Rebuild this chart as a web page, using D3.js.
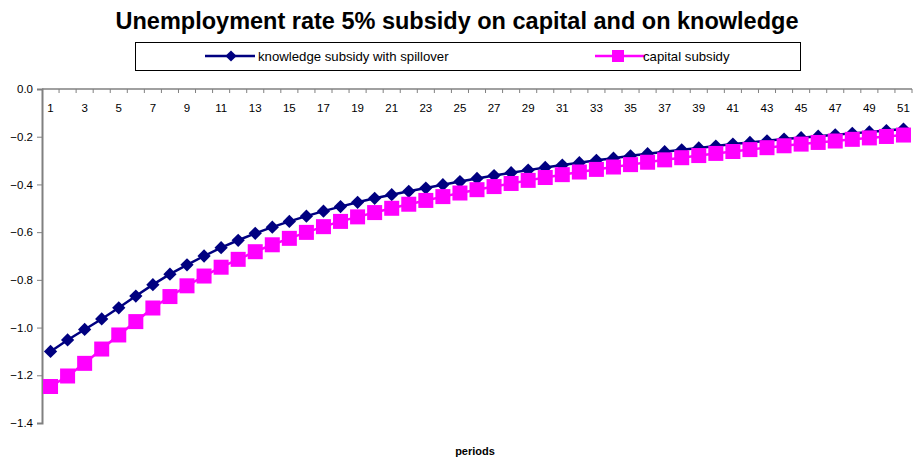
<!DOCTYPE html>
<html>
<head>
<meta charset="utf-8">
<script src="https://cdn.jsdelivr.net/npm/d3@7"></script>
<style>
  body { margin: 0; background: #fff; }
  text { font-family: "Liberation Sans", Arial, sans-serif; }
</style>
</head>
<body>
<div id="chart"></div>
<script>
// values
const periods = d3.range(1, 52);
const knowledgeSubsidy = [
  -1.100, -1.052, -1.008, -0.964, -0.917, -0.868, -0.820, -0.776, -0.737, -0.700,
  -0.665, -0.634, -0.605, -0.579, -0.555, -0.533, -0.512, -0.493, -0.475, -0.458,
  -0.443, -0.429, -0.415, -0.401, -0.388, -0.375, -0.363, -0.351, -0.340, -0.329,
  -0.319, -0.309, -0.299, -0.290, -0.280, -0.271, -0.263, -0.255, -0.247, -0.239,
  -0.231, -0.224, -0.217, -0.210, -0.204, -0.198, -0.192, -0.186, -0.180, -0.174, -0.168
];
const capitalSubsidy = [
  -1.247, -1.203, -1.150, -1.090, -1.031, -0.975, -0.918, -0.870, -0.825, -0.784,
  -0.747, -0.714, -0.682, -0.653, -0.626, -0.601, -0.577, -0.555, -0.536, -0.518,
  -0.500, -0.483, -0.467, -0.451, -0.436, -0.422, -0.409, -0.396, -0.383, -0.371,
  -0.359, -0.348, -0.337, -0.327, -0.317, -0.307, -0.297, -0.288, -0.279, -0.270,
  -0.262, -0.254, -0.246, -0.238, -0.231, -0.224, -0.218, -0.211, -0.205, -0.199, -0.193
];
const yTicks = [0, -0.2, -0.4, -0.6, -0.8, -1.0, -1.2, -1.4];
const seriesNames = ["knowledge subsidy with spillover", "capital subsidy"];
const seriesColors = ["#000080", "#ff00ff"];

const width = 913, height = 462;
const margin = {top: 89, right: 1, bottom: 39, left: 42};

const svg = d3.select("#chart").append("svg")
    .attr("width", width)
    .attr("height", height);

const x = d3.scaleBand()
    .domain(periods)
    .range([margin.left, width - margin.right]);

const y = d3.scaleLinear()
    .domain([-1.4, 0])
    .range([height - margin.bottom, margin.top]);

// title
svg.append("text")
    .attr("x", 457)
    .attr("y", 29)
    .attr("text-anchor", "middle")
    .style("font-size", "23.5px")
    .style("font-weight", "bold")
    .text("Unemployment rate 5% subsidy on capital and on knowledge");

// legend
const legend = svg.append("g");
legend.append("rect")
    .attr("x", 135.5).attr("y", 42.5)
    .attr("width", 665).attr("height", 28)
    .attr("fill", "none")
    .attr("stroke", "#000");

const legendX = [205, 595];
seriesNames.forEach(function(name, i) {
    let g = legend.append("g").attr("transform", "translate(" + legendX[i] + ",56)");
    g.append("line")
        .attr("x1", 0).attr("x2", 50)
        .attr("stroke", seriesColors[i])
        .attr("stroke-width", 2.5);
    if (i === 0) {
        g.append("path")
            .attr("d", d3.symbol().type(d3.symbolDiamond2).size(80)())
            .attr("transform", "translate(26,0)")
            .attr("fill", seriesColors[i]);
    } else {
        g.append("rect")
            .attr("x", 17).attr("y", -6).attr("width", 12).attr("height", 12)
            .attr("fill", seriesColors[i]);
    }
    g.append("text")
        .attr("x", i === 0 ? 53 : 48).attr("y", 4.5)
        .style("font-size", "13.2px")
        .text(name);
});

// y axis
const yAxis = svg.append("g")
    .attr("transform", "translate(" + margin.left + ",0)")
    .call(d3.axisLeft(y).tickValues(yTicks).tickSize(5).tickFormat(d3.format(".1f")));
yAxis.select(".domain").attr("stroke", "#808080").attr("stroke-width", 2);
yAxis.selectAll(".tick line").attr("stroke", "#808080");
yAxis.selectAll(".tick text")
    .attr("x", -9)
    .style("font-size", "11.5px")
    .style("font-family", "Liberation Sans, Arial, sans-serif")
    .attr("fill", "#000");

// x axis at value 0, ticks between categories
const xAxisG = svg.append("g").attr("transform", "translate(0," + y(0) + ")");
xAxisG.append("line")
    .attr("x1", margin.left).attr("x2", width - margin.right)
    .attr("stroke", "#808080").attr("stroke-width", 1.5);
xAxisG.selectAll("line.tk")
    .data(periods)
    .enter().append("line")
    .attr("class", "tk")
    .attr("x1", d => x(d) + x.bandwidth())
    .attr("x2", d => x(d) + x.bandwidth())
    .attr("y1", 0).attr("y2", 4)
    .attr("stroke", "#808080");
xAxisG.selectAll("text")
    .data(periods.filter(d => d % 2 === 1))
    .enter().append("text")
    .attr("x", d => x(d) + x.bandwidth() / 2)
    .attr("y", 23)
    .attr("text-anchor", "middle")
    .style("font-size", "11.5px")
    .text(d => d);

svg.append("text")
    .attr("x", 475)
    .attr("y", 455)
    .attr("text-anchor", "middle")
    .style("font-size", "11px")
    .style("font-weight", "bold")
    .text("periods");

// series
const cx = d => x(d) + x.bandwidth() / 2;
const line = d3.line()
    .x((d, i) => cx(periods[i]))
    .y(d => y(d));

svg.append("path")
    .datum(knowledgeSubsidy)
    .attr("d", line)
    .attr("fill", "none")
    .attr("stroke", seriesColors[0])
    .attr("stroke-width", 2.5);

svg.append("g").selectAll("path")
    .data(knowledgeSubsidy)
    .enter().append("path")
    .attr("d", d3.symbol().type(d3.symbolDiamond2).size(112)())
    .attr("transform", (d, i) => "translate(" + cx(periods[i]) + "," + y(d) + ")")
    .attr("fill", seriesColors[0]);

svg.append("path")
    .datum(capitalSubsidy)
    .attr("d", line)
    .attr("fill", "none")
    .attr("stroke", seriesColors[1])
    .attr("stroke-width", 2.5);

svg.append("g").selectAll("rect")
    .data(capitalSubsidy)
    .enter().append("rect")
    .attr("x", (d, i) => cx(periods[i]) - 7.5)
    .attr("y", d => y(d) - 7.5)
    .attr("width", 15)
    .attr("height", 15)
    .attr("fill", seriesColors[1]);
</script>
</body>
</html>
